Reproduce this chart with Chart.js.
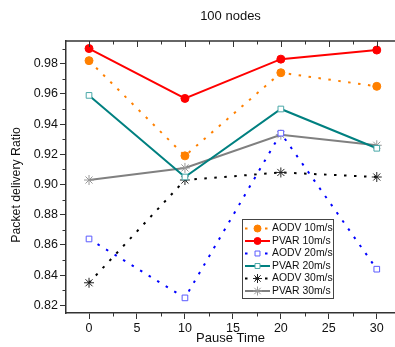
<!DOCTYPE html>
<html>
<head>
<meta charset="utf-8">
<script src="https://cdn.jsdelivr.net/npm/chart.js@4.4.1/dist/chart.umd.min.js"></script>
<style>
  html, body { margin: 0; padding: 0; background: #fff; }
  canvas { display: block; }
</style>
</head>
<body>
<canvas id="chart" width="395" height="347"></canvas>
<script>
// data
const pauseTimes = [0, 10, 20, 30];
const aodv10 = [0.982, 0.919, 0.974, 0.965];
const pvar10 = [0.990, 0.957, 0.983, 0.989];
const aodv20 = [0.864, 0.825, 0.934, 0.844];
const pvar20 = [0.959, 0.905, 0.950, 0.924];
const aodv30 = [0.835, 0.903, 0.908, 0.905];
const pvar30 = [0.903, 0.911, 0.933, 0.926];

const xTicks = [0, 5, 10, 15, 20, 25, 30];
const xMinor = [-2.5, 2.5, 7.5, 12.5, 17.5, 22.5, 27.5];
const yTicks = [0.82, 0.84, 0.86, 0.88, 0.90, 0.92, 0.94, 0.96, 0.98];
const yMinor = [0.83, 0.85, 0.87, 0.89, 0.91, 0.93, 0.95, 0.97, 0.99];

const AXIS = '#333';
const FONT = 'Liberation Sans, Arial, sans-serif';

function pts(arr) {
    return pauseTimes.map((x, i) => ({ x: x, y: arr[i] }));
}

const dotted = [2.5, 7.5];

const datasets = [
    {
        label: 'AODV 10m/s', data: pts(aodv10),
        borderColor: '#ff8000', borderWidth: 2, borderDash: dotted,
        pointStyle: 'circle', pointRadius: 4, pointBackgroundColor: '#ff8000', pointBorderColor: '#ff8000', pointBorderWidth: 1
    },
    {
        label: 'PVAR 10m/s', data: pts(pvar10),
        borderColor: '#ff0000', borderWidth: 2,
        pointStyle: 'circle', pointRadius: 4, pointBackgroundColor: '#ff0000', pointBorderColor: '#ff0000', pointBorderWidth: 1
    },
    {
        label: 'AODV 20m/s', data: pts(aodv20),
        borderColor: '#0000ff', borderWidth: 2, borderDash: dotted,
        pointStyle: 'rect', pointRadius: 4, pointBackgroundColor: '#fff', pointBorderColor: '#5a5aff', pointBorderWidth: 1
    },
    {
        label: 'PVAR 20m/s', data: pts(pvar20),
        borderColor: '#008080', borderWidth: 2,
        pointStyle: 'rect', pointRadius: 4, pointBackgroundColor: '#fff', pointBorderColor: '#4aa8a8', pointBorderWidth: 1
    },
    {
        label: 'AODV 30m/s', data: pts(aodv30),
        borderColor: '#000', borderWidth: 2, borderDash: dotted,
        pointStyle: 'star', pointRadius: 5, pointBackgroundColor: '#000', pointBorderColor: '#222', pointBorderWidth: 1
    },
    {
        label: 'PVAR 30m/s', data: pts(pvar30),
        borderColor: '#808080', borderWidth: 2,
        pointStyle: 'star', pointRadius: 5, pointBackgroundColor: '#999', pointBorderColor: '#999', pointBorderWidth: 1
    }
];

// draws the title, y title, the top axis and the minor ticks
const framePlugin = {
    id: 'frame',
    afterDraw(chart) {
        const ctx = chart.ctx;
        const a = chart.chartArea;
        const xs = chart.scales.x, ys = chart.scales.y;
        ctx.save();
        ctx.fillStyle = '#111';
        ctx.font = '13px ' + FONT;
        ctx.textAlign = 'center';
        ctx.textBaseline = 'middle';
        ctx.fillText('100 nodes', (a.left + a.right) / 2, 16);

        ctx.save();
        ctx.translate(17, 185);
        ctx.rotate(-Math.PI / 2);
        ctx.font = '12.3px ' + FONT;
        ctx.fillText('Packet delivery Ratio', 0, 0);
        ctx.restore();

        ctx.strokeStyle = AXIS;
        ctx.lineWidth = 1.5;
        ctx.beginPath();
        ctx.moveTo(a.left, a.top);
        ctx.lineTo(a.right, a.top);
        ctx.stroke();

        ctx.lineWidth = 1;
        ctx.beginPath();
        xTicks.forEach(v => {
            const px = Math.round(xs.getPixelForValue(v)) + 0.5;
            ctx.moveTo(px, a.top); ctx.lineTo(px, a.top + 6);
        });
        xMinor.forEach(v => {
            const px = Math.round(xs.getPixelForValue(v)) + 0.5;
            if (px < a.left) return;
            ctx.moveTo(px, a.bottom); ctx.lineTo(px, a.bottom + 3.5);
            ctx.moveTo(px, a.top); ctx.lineTo(px, a.top + 3.5);
        });
        yMinor.forEach(v => {
            const py = Math.round(ys.getPixelForValue(v)) + 0.5;
            if (py < a.top) return;
            ctx.moveTo(a.left, py); ctx.lineTo(a.left - 3.5, py);
        });
        ctx.stroke();
        ctx.restore();
    }
};

// legend box inside the plot
const boxLegend = {
    id: 'boxLegend',
    afterDraw(chart) {
        const ctx = chart.ctx;
        const a = chart.chartArea;
        const bx = a.left + 176, by = a.top + 178, bw = 91, bh = 79;
        const rowH = 12.5;
        ctx.save();
        ctx.fillStyle = '#fff';
        ctx.fillRect(bx, by, bw, bh);
        ctx.strokeStyle = '#444';
        ctx.lineWidth = 1;
        ctx.strokeRect(bx + 0.5, by + 0.5, bw, bh);
        ctx.font = '10.4px ' + FONT;
        ctx.textBaseline = 'middle';
        chart.data.datasets.forEach((ds, i) => {
            const y = by + 9.5 + i * rowH;
            ctx.strokeStyle = ds.borderColor;
            ctx.lineWidth = ds.borderWidth;
            ctx.setLineDash(ds.borderDash || []);
            ctx.beginPath();
            ctx.moveTo(bx + 3, y);
            ctx.lineTo(bx + 28, y);
            ctx.stroke();
            ctx.setLineDash([]);
            ctx.fillStyle = ds.pointBackgroundColor;
            ctx.strokeStyle = ds.pointBorderColor;
            ctx.lineWidth = ds.pointBorderWidth;
            Chart.helpers.drawPoint(ctx, {
                pointStyle: ds.pointStyle, radius: ds.pointRadius - 0.5, rotation: 0, borderWidth: ds.pointBorderWidth
            }, bx + 15.5, y);
            ctx.fillStyle = '#111';
            ctx.textAlign = 'left';
            ctx.fillText(ds.label, bx + 30, y);
        });
        ctx.restore();
    }
};

new Chart(document.getElementById('chart'), {
    type: 'line',
    data: { datasets: datasets },
    plugins: [framePlugin, boxLegend],
    options: {
        responsive: false,
        animation: false,
        layout: { autoPadding: false, padding: { top: 41, right: 0, bottom: 0, left: 0 } },
        plugins: { legend: { display: false }, tooltip: { enabled: false } },
        elements: { line: { tension: 0 } },
        scales: {
            x: {
                type: 'linear',
                min: -2.4, max: 31.9,
                afterBuildTicks: s => { s.ticks = xTicks.map(v => ({ value: v })); },
                afterFit: s => { s.height = 34; s.paddingLeft = 0; s.paddingRight = 0; },
                ticks: { color: '#111', font: { family: FONT, size: 12.5 }, padding: 2, maxRotation: 0 },
                grid: { display: true, drawOnChartArea: false, drawTicks: true, tickLength: 6, tickColor: AXIS },
                border: { display: true, color: AXIS, width: 1.5 },
                title: { display: true, text: 'Pause Time', color: '#111', font: { family: FONT, size: 13 }, padding: { top: 0, bottom: 1 } }
            },
            y: {
                min: 0.815, max: 0.995,
                afterBuildTicks: s => { s.ticks = yTicks.map(v => ({ value: v })); },
                afterFit: s => { s.width = 66; s.paddingTop = 0; s.paddingBottom = 0; },
                ticks: { color: '#111', font: { family: FONT, size: 12.5 }, padding: 2, callback: v => v.toFixed(2) },
                grid: { display: true, drawOnChartArea: false, drawTicks: true, tickLength: 6, tickColor: AXIS },
                border: { display: true, color: AXIS, width: 1.5 },
                title: { display: false }
            }
        }
    }
});
</script>
</body>
</html>
